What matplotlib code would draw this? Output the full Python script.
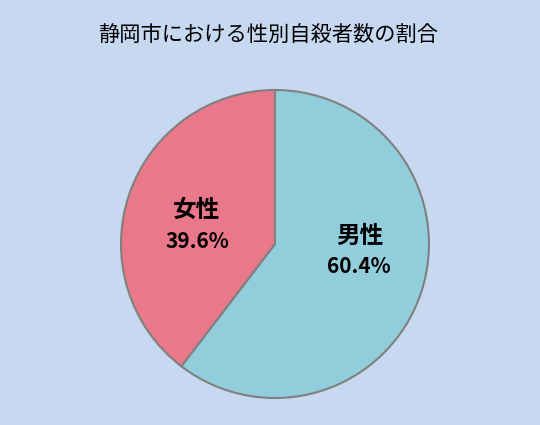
import matplotlib.pyplot as plt

plt.rcParams['font.family'] = ['Noto Sans CJK JP', 'DejaVu Sans']

# data
labels = ['男性', '女性']
shares = [60.4, 39.6]
colors = ['#92CDDC', '#E9788A']
title = '静岡市における性別自殺者数の割合'

# label positions (axes data units, pie radius = 1): name, percent
name_pos = [(0.552, 0.052), (-0.506, 0.221)]
pct_pos = [(0.545, -0.149), (-0.506, 0.019)]

fig = plt.figure(figsize=(5.4, 4.25), dpi=100)
fig.patch.set_facecolor('#C6D9F1')
ax = fig.add_axes([0.224, 0.0635, 0.5704, 0.7247])

wedges, _ = ax.pie(shares, colors=colors, startangle=90, counterclock=False,
                   wedgeprops=dict(edgecolor='#808080', linewidth=1.5))
ax.set_xlim(-1, 1)
ax.set_ylim(-1, 1)
ax.set_aspect('equal')

for lab, val, npos, ppos in zip(labels, shares, name_pos, pct_pos):
    ax.text(npos[0], npos[1], lab, ha='center', va='center',
            fontsize=17, fontweight='bold')
    ax.text(ppos[0], ppos[1], f'{val:.1f}%', ha='center', va='center',
            fontsize=15, fontweight='bold')

fig.text(0.497, 0.915, title, ha='center', va='center', fontsize=15.3)

fig.savefig('out.png', dpi=100, facecolor=fig.get_facecolor())
